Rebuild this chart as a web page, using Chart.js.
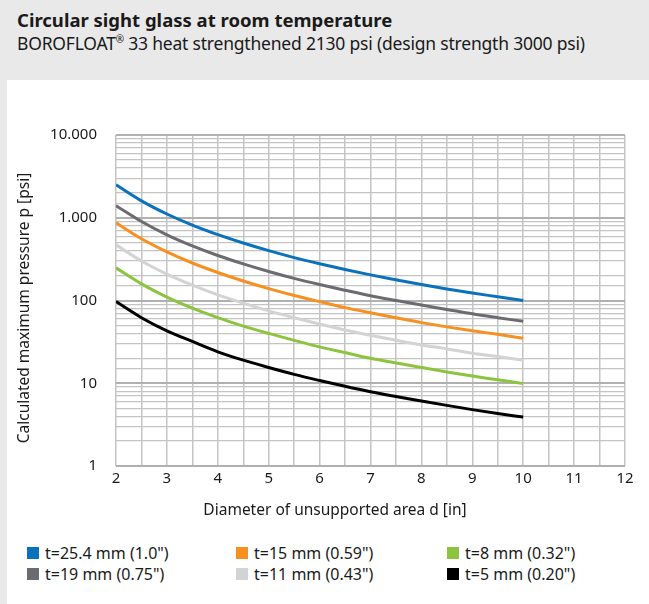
<!DOCTYPE html>
<html>
<head>
<meta charset="utf-8">
<script src="https://cdn.jsdelivr.net/npm/chart.js@4"></script>
<style>
  html, body { margin: 0; padding: 0; }
  body { width: 649px; height: 604px; background: #e9e9e9; position: relative; overflow: hidden; font-family: "Noto Sans", sans-serif; color: #1a1a1a; }
  #title { position: absolute; left: 17px; top: 7px; font-size: 18.5px; font-weight: bold; white-space: nowrap; }
  #subtitle { position: absolute; left: 17px; top: 31px; font-size: 17.5px; white-space: nowrap; letter-spacing: -0.2px; }
  #subtitle sup { font-size: 10px; }
  #panel { position: absolute; left: 7px; top: 80px; width: 642px; height: 524px; background: #fff; }
  #chart { position: absolute; left: 0; top: 0; }
  .leg { position: absolute; font-size: 16px; white-space: nowrap; }
  .leg span.box { position: absolute; left: 0; top: 0; width: 12px; height: 12px; }
  .leg span.txt { position: absolute; left: 18px; top: -5px; }
</style>
</head>
<body>
<div id="title">Circular sight glass at room temperature</div>
<div id="subtitle">BOROFLOAT<sup>®</sup> 33 heat strengthened 2130 psi (design strength 3000 psi)</div>
<div id="panel">
  <canvas id="chart" width="642" height="440"></canvas>
  <div id="legend"></div>
</div>
<script>
// diameter of unsupported area [in]
const diameters = [2, 2.5, 3, 3.5, 4, 4.5, 5, 5.5, 6, 6.5, 7, 7.5, 8, 8.5, 9, 9.5, 10];

// calculated max pressure [psi]
const t254 = [2500, 1600, 1110, 815, 625, 495, 400, 330, 278, 237, 204, 178, 156, 138, 123, 111, 100];
const t19 = [1400, 900, 622, 457, 350, 277, 224, 185, 156, 133, 114, 100, 88, 78, 69, 62, 56];
const t15 = [870, 557, 387, 284, 218, 172, 139, 115, 97, 82, 71, 62, 54, 48, 43, 39, 35];
const t11 = [470, 300, 208, 153, 117, 93, 75, 62, 52, 44, 38, 33, 29, 26, 23, 21, 19];
const t8 = [248, 159, 110, 81, 62, 49, 40, 33, 27.5, 23.5, 20, 17.6, 15.5, 13.7, 12.2, 11, 9.9];
const t5 = [97, 62, 43, 32, 24, 19, 15.5, 12.8, 10.8, 9.2, 7.9, 6.9, 6.1, 5.4, 4.8, 4.3, 3.9];

const seriesLabels = ['t=25.4 mm (1.0")', 't=19 mm (0.75")', 't=15 mm (0.59")', 't=11 mm (0.43")', 't=8 mm (0.32")', 't=5 mm (0.20")'];
const seriesColors = ['#0a72bd', '#6b6c70', '#f7901e', '#d2d3d5', '#8cc43f', '#000000'];
const seriesData = [t254, t19, t15, t11, t8, t5];

const yTickLabels = { 1: '1', 10: '10', 100: '100', 1000: '1.000', 10000: '10.000' };
const xTickLabels = [2, 3, 4, 5, 6, 7, 8, 9, 10, 11, 12];

const xTitle = 'Diameter of unsupported area d [in]';
const yTitle = 'Calculated maximum pressure p [psi]';

const FONT = '"Noto Sans", sans-serif';

const datasets = seriesData.map((vals, i) => ({
  label: seriesLabels[i],
  data: vals.map((v, j) => ({ x: diameters[j], y: v })),
  borderColor: seriesColors[i],
  backgroundColor: seriesColors[i],
  borderWidth: 3,
  pointRadius: 0,
  cubicInterpolationMode: 'monotone',
  fill: false
}));

// axis titles drawn at the spots the original uses
const axisTitles = {
  id: 'axisTitles',
  afterDraw(chart) {
    const ctx = chart.ctx;
    ctx.save();
    ctx.fillStyle = '#1a1a1a';
    ctx.font = '15.5px ' + FONT;
    ctx.textAlign = 'center';
    ctx.textBaseline = 'middle';
    ctx.fillText(xTitle, 328, 431);
    ctx.translate(18, 228);
    ctx.rotate(-Math.PI / 2);
    ctx.fillText(yTitle, 0, 0);
    ctx.restore();
  }
};

new Chart(document.getElementById('chart'), {
  type: 'line',
  data: { datasets: datasets },
  options: {
    responsive: false,
    animation: false,
    devicePixelRatio: 1,
    layout: { padding: { left: 0, right: 24, top: 55, bottom: 0 } },
    plugins: { legend: { display: false }, tooltip: { enabled: false } },
    scales: {
      x: {
        type: 'linear',
        min: 2,
        max: 12,
        afterFit(scale) { scale.height = 54; },
        border: { display: false },
        grid: { color: '#c4c4c4', lineWidth: 1.5, drawTicks: false },
        ticks: {
          stepSize: 0.5,
          autoSkip: false,
          maxRotation: 0,
          padding: 4,
          color: '#1a1a1a',
          font: { family: FONT, size: 15 },
          callback: v => xTickLabels.includes(v) ? String(v) : ''
        }
      },
      y: {
        type: 'logarithmic',
        min: 1,
        max: 10000,
        afterFit(scale) { scale.width = 109; },
        border: { display: false },
        grid: {
          drawTicks: false,
          color: c => (c.tick && yTickLabels[c.tick.value]) ? '#b0b0b0' : '#c4c4c4',
          lineWidth: c => (c.tick && yTickLabels[c.tick.value]) ? 2 : 1.2
        },
        ticks: {
          autoSkip: false,
          padding: 19,
          color: '#1a1a1a',
          font: { family: FONT, size: 15 },
          callback: v => yTickLabels[v] !== undefined ? yTickLabels[v] : ''
        }
      }
    }
  },
  plugins: [axisTitles]
});

// legend, three columns, filled column by column
const legendPos = [[20, 467], [20, 488], [229, 467], [229, 488], [440, 467], [440, 488]];
const legOrder = [0, 1, 2, 3, 4, 5];
const legendEl = document.getElementById('legend');
legOrder.forEach((idx, k) => {
  const d = document.createElement('div');
  d.className = 'leg';
  d.style.left = legendPos[k][0] + 'px';
  d.style.top = legendPos[k][1] + 'px';
  d.innerHTML = '<span class="box" style="background:' + seriesColors[idx] + '"></span><span class="txt">' + seriesLabels[idx] + '</span>';
  legendEl.appendChild(d);
});
</script>
</body>
</html>
